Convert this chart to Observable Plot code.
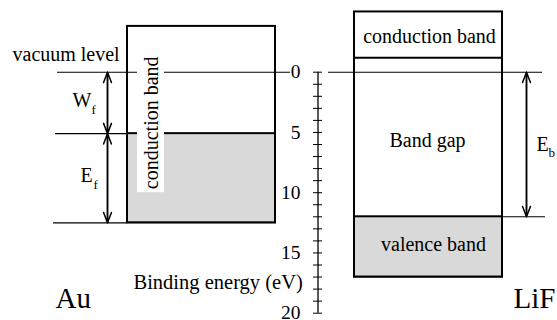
<!DOCTYPE html>
<html>
<head>
<meta charset="utf-8">
<script src="https://cdn.jsdelivr.net/npm/d3@7"></script>
<script src="https://cdn.jsdelivr.net/npm/@observablehq/plot@0.6"></script>
<style>
  html, body { margin: 0; padding: 0; background: #fff; }
</style>
</head>
<body>
<div id="chart"></div>
<script>
// Energy levels in eV, counted downward from the vacuum level (binding energy)
const vacuumLevel = 0;
const auBandTop = -3.8;
const auFermiLevel = 5.1;      // W_f below the vacuum level
const auBandBottom = 12.5;     // E_f below the Fermi level
const lifTop = -5;
const lifConductionEdge = -1.2;
const lifValenceTop = 12;      // E_b below the vacuum level
const lifValenceBottom = 17;

// Binding-energy axis
const axisTicks = [0, 1, 2, 3, 4, 5, 6, 7, 8, 9, 10, 11, 12, 13, 14, 15, 16, 17, 18, 19, 20];
const axisLabels = [0, 5, 10, 15, 20];

// Horizontal layout columns of the diagram
const col = {
  auLeft: 127, auRight: 275,
  lifLeft: 354, lifRight: 502,
  axis: 317.5, wArrow: 107, bArrow: 526
};

const serif = "Liberation Serif";
const thin = 1.1, box = 2, gray = "#d9d9d9";

// thin level lines reaching out of the boxes
const levelLines = [
  {y: vacuumLevel, x1: 57, x2: 137},
  {y: vacuumLevel, x1: 164, x2: 290},
  {y: vacuumLevel, x1: 328, x2: 542},
  {y: auFermiLevel, x1: 55, x2: col.auLeft},
  {y: auBandBottom, x1: 53, x2: col.auLeft},
  {y: lifValenceTop, x1: col.lifRight, x2: 545}
];

// double-headed arrows: one arrow each way along the same shaft
const spans = [
  {x: col.wArrow, a: vacuumLevel, b: auFermiLevel},
  {x: col.wArrow, a: auFermiLevel, b: auBandBottom},
  {x: col.bArrow, a: vacuumLevel, b: lifValenceTop}
];
const arrows = spans.flatMap(s => [
  {x: s.x, from: s.a, to: s.b},
  {x: s.x, from: s.b, to: s.a}
]);

// left-aligned labels
const startLabels = [
  {text: "vacuum level", x: 12, y: -0.9, size: 20},
  {text: "W", x: 72, y: 2.9, size: 20},
  {text: "f", x: 91, y: 3.45, size: 13},
  {text: "E", x: 80, y: 9.15, size: 20},
  {text: "f", x: 93, y: 9.7, size: 13},
  {text: "E", x: 536, y: 6.5, size: 20},
  {text: "b", x: 548, y: 7.0, size: 13},
  {text: "Binding energy (eV)", x: 133, y: 18.0, size: 20.5},
  {text: "Au", x: 55, y: 19.55, size: 29}
];
// centred band labels
const bandLabels = [
  {text: "conduction band", x: 429, y: -2.4},
  {text: "Band gap", x: 427, y: 6.2},
  {text: "valence band", x: 433, y: 14.85}
];

const chart = Plot.plot({
  width: 557,
  height: 320,
  margin: 0,
  style: {fontFamily: serif, background: "white", color: "black"},
  x: {domain: [0, 557], range: [0, 557], axis: null},
  y: {domain: [0, 20], range: [71.7, 312.7], axis: null},
  marks: [
    // Au: metal box, occupied part shaded below the Fermi level
    Plot.rect([0], {x1: col.auLeft, x2: col.auRight, y1: auBandTop, y2: auBandBottom,
      fill: "white", stroke: "black", strokeWidth: box}),
    Plot.rect([0], {x1: col.auLeft, x2: col.auRight, y1: auFermiLevel, y2: auBandBottom,
      fill: gray, stroke: "black", strokeWidth: box}),

    // LiF: conduction band, gap and shaded valence band
    Plot.rect([0], {x1: col.lifLeft, x2: col.lifRight, y1: lifTop, y2: lifValenceBottom,
      fill: "white", stroke: "black", strokeWidth: box}),
    Plot.rect([0], {x1: col.lifLeft, x2: col.lifRight, y1: lifValenceTop, y2: lifValenceBottom,
      fill: gray, stroke: "black", strokeWidth: box}),
    Plot.ruleY([lifConductionEdge], {x1: col.lifLeft, x2: col.lifRight, stroke: "black", strokeWidth: box}),

    // level lines
    Plot.ruleY(levelLines, {y: "y", x1: "x1", x2: "x2", stroke: "black", strokeWidth: thin}),

    // rotated band label on a white patch
    Plot.rect([0], {x1: 137, x2: 164, y1: -1.8, y2: 10.0, fill: "white"}),
    Plot.text(["conduction band"], {x: 151, y: 4.2, text: d => d, rotate: -90, fontFamily: serif,
      fontSize: 20, textAnchor: "middle", lineAnchor: "middle", fill: "black"}),

    // arrows
    Plot.arrow(arrows, {x1: "x", x2: "x", y1: "from", y2: "to",
      stroke: "black", strokeWidth: 1.5, headLength: 11, headAngle: 42}),

    // binding-energy axis
    Plot.ruleX([col.axis], {y1: axisTicks[0], y2: axisTicks[axisTicks.length - 1], stroke: "black", strokeWidth: 1.3}),
    Plot.ruleY(axisTicks, {y: d => d, x1: col.axis - 4.5, x2: col.axis + 4.5, stroke: "black", strokeWidth: 1}),
    Plot.text(axisLabels, {x: 300, y: d => d, text: d => String(d), textAnchor: "end", fontFamily: serif,
      lineAnchor: "middle", fontSize: 19.5, fill: "black"}),

    // labels
    Plot.text(startLabels, {x: "x", y: "y", text: "text", fontSize: d => d.size, textAnchor: "start",
      fontFamily: serif, lineAnchor: "bottom", fill: "black"}),
    Plot.text(bandLabels, {x: "x", y: "y", text: "text", fontSize: 20, textAnchor: "middle",
      fontFamily: serif, lineAnchor: "bottom", fill: "black"}),
    Plot.text(["LiF"], {x: 555, y: 19.55, text: d => d, fontSize: 29, textAnchor: "end",
      fontFamily: serif, lineAnchor: "bottom", fill: "black"})
  ]
});

document.getElementById("chart").appendChild(chart);
</script>
</body>
</html>
